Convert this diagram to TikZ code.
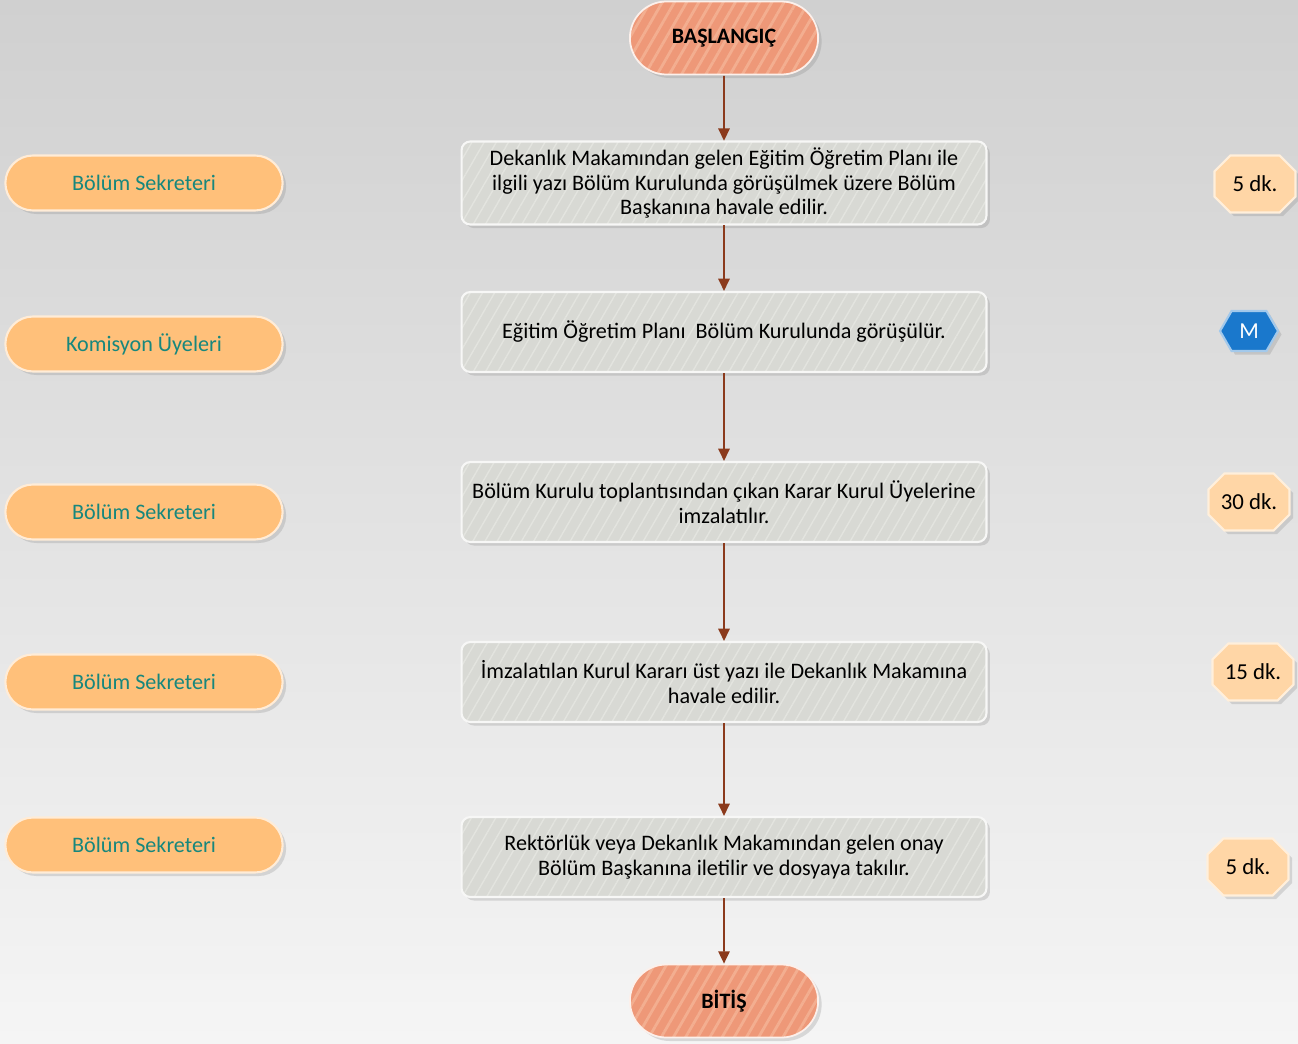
\documentclass[tikz,border=0pt]{standalone}
\usepackage{fontspec}
\setmainfont{Carlito}
\usepackage{tikz}
\usetikzlibrary{shapes.misc,shapes.symbols,arrows.meta,positioning,shadows,patterns.meta}
\usepackage{xcolor}
\definecolor{bgtop}{HTML}{D0D0D0}
\definecolor{bgbottom}{HTML}{F5F5F5}
\definecolor{salmon}{HTML}{EE9878}
\definecolor{salmonline}{HTML}{F3AE90}
\definecolor{stepgray}{HTML}{D8D9D4}
\definecolor{stepline}{HTML}{E3E4DF}
\definecolor{pillorange}{HTML}{FFC07A}
\definecolor{pilltext}{HTML}{17877D}
\definecolor{timefill}{HTML}{FFD6A6}
\definecolor{mblue}{HTML}{1A78CC}
\definecolor{arrowbrown}{HTML}{8B3A1C}

\begin{document}
\begin{tikzpicture}[x=0.02cm,y=-0.02cm]
    \tikzstyle{shade} = [drop shadow={opacity=0.25,shadow xshift=2pt,shadow yshift=-2pt}]
    \tikzstyle{terminal} = [rounded rectangle, shade, draw=white!85!salmon,
      line width=1pt, preaction={fill=salmon},
      pattern={Lines[angle=60,distance=6pt,line width=1.6pt]},
      pattern color=salmonline, minimum width=4.0cm, minimum height=1.46cm,
      font=\fontsize{12.5}{15}\selectfont\bfseries]
    \tikzstyle{process} = [rectangle, rounded corners=5pt, shade,
      draw=white!80!stepgray, line width=1.2pt, preaction={fill=stepgray},
      pattern={Lines[angle=60,distance=6pt,line width=0.8pt]},
      pattern color=stepline, minimum width=10.5cm, minimum height=1.6cm,
      align=center, font=\fontsize{12.6}{14.2}\selectfont]
    \tikzstyle{actor} = [rounded rectangle, shade, draw=white!70!pillorange,
      line width=1.2pt, fill=pillorange, text=pilltext,
      minimum width=5.78cm, minimum height=1.1cm,
      font=\fontsize{12.6}{14}\selectfont]
    \tikzstyle{duration} = [chamfered rectangle, chamfered rectangle xsep=4.5pt,
      chamfered rectangle ysep=4.5pt, shade, draw=white!60!timefill,
      line width=1.2pt, fill=timefill, inner sep=1pt,
      minimum width=1.62cm, minimum height=1.14cm,
      font=\fontsize{13}{15}\selectfont]
    \tikzstyle{line} = [draw=arrowbrown, line width=0.9pt,
      -{Triangle[length=7pt,width=6.5pt]}]

    % background
    \shade[top color=bgtop, bottom color=bgbottom] (0,0) rectangle (1298,1044);
    \useasboundingbox (0,0) rectangle (1298,1044);

    % main flow
    \node[terminal] (start) at (724,38) {BAŞLANGIÇ};
    \node[process] (s1) at (724,183) {Dekanlık Makamından gelen Eğitim Öğretim Planı ile\\
      ilgili yazı Bölüm Kurulunda görüşülmek üzere Bölüm\\ Başkanına havale edilir.};
    \node[process] (s2) at (724,332) {Eğitim Öğretim Planı\ \ Bölüm Kurulunda görüşülür.};
    \node[process] (s3) at (724,502) {Bölüm Kurulu toplantısından çıkan Karar Kurul Üyelerine\\ imzalatılır.};
    \node[process] (s4) at (724,682) {İmzalatılan Kurul Kararı üst yazı ile Dekanlık Makamına\\ havale edilir.};
    \node[process] (s5) at (724,857) {Rektörlük veya Dekanlık Makamından gelen onay\\ Bölüm Başkanına iletilir ve dosyaya takılır.};
    \node[terminal] (end) at (724,1001) {BİTİŞ};

    \draw[line] (start) -- (s1);
    \draw[line] (s1) -- (s2);
    \draw[line] (s2) -- (s3);
    \draw[line] (s3) -- (s4);
    \draw[line] (s4) -- (s5);
    \draw[line] (s5) -- (end);

    % who does it
    \node[actor] (who1) at (144,183) {Bölüm Sekreteri};
    \node[actor] (who2) at (144,344) {Komisyon Üyeleri};
    \node[actor] (who3) at (144,512) {Bölüm Sekreteri};
    \node[actor] (who4) at (144,682) {Bölüm Sekreteri};
    \node[actor] (who5) at (144,845) {Bölüm Sekreteri};

    % how long
    \node[duration] (time1) at (1255,184) {5 dk.};
    \node[signal, signal to=east and west, signal pointer angle=120, shade,
      draw=white!60!mblue, line width=1.2pt, fill=mblue, text=white,
      minimum width=1.16cm, minimum height=0.8cm, inner sep=1pt,
      font=\fontsize{13}{15}\selectfont] (mark2) at (1249,331) {M};
    \node[duration] (time3) at (1249,502) {30 dk.};
    \node[duration] (time4) at (1253,672) {15 dk.};
    \node[duration] (time5) at (1248,867) {5 dk.};
\end{tikzpicture}
\end{document}
